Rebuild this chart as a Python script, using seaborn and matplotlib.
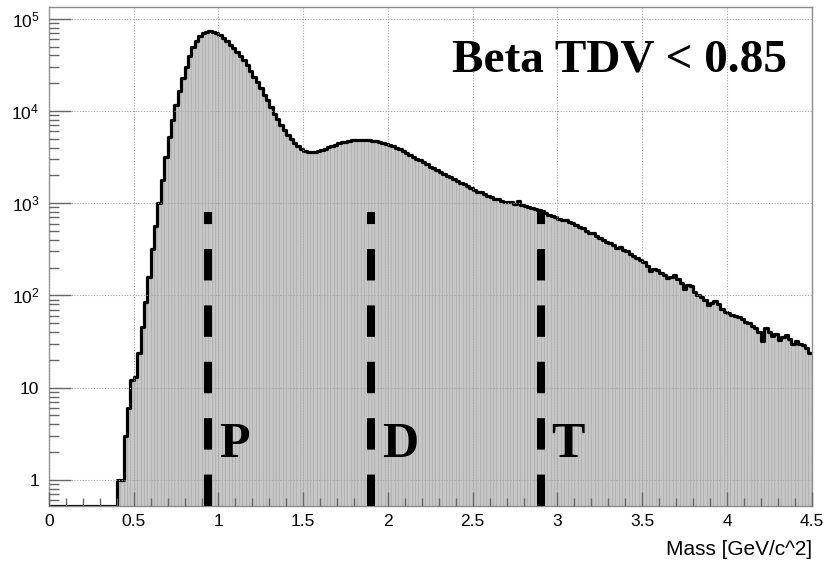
import numpy as np
import pandas as pd
import matplotlib
matplotlib.use("Agg")
import matplotlib.pyplot as plt
import seaborn as sns
from matplotlib.ticker import FixedLocator, FixedFormatter, MultipleLocator, LogLocator, NullFormatter

# ---------------- data ----------------
bin_width = 0.02
mass_range = (0.0, 4.5)

# counts per 0.02 GeV/c^2 bin, starting at 0.00
counts_below_threshold = [0] * 20          # 0.00 - 0.38
counts = counts_below_threshold + [
    1, 1, 3, 6, 12, 13, 24, 45, 85, 160,                                  # 0.40-0.58
    320, 560, 1000, 1800, 3200, 5200, 8000, 11700, 16600, 22900,          # 0.60-0.78
    30200, 39800, 49000, 57500, 64600, 70000, 72400, 73300, 72400, 70000, # 0.80-0.98
    66000, 61700, 57000, 52500, 48000, 43600, 39800, 35500, 31600, 27500, # 1.00-1.18
    23400, 20400, 17800, 15100, 13200, 11000, 9300, 8100, 7100, 6200,     # 1.20-1.38
    5500, 5000, 4500, 4150, 3900, 3700, 3630, 3600, 3630, 3720,           # 1.40-1.58
    3800, 3900, 4070, 4170, 4300, 4470, 4570, 4650, 4750, 4800,           # 1.60-1.78
    4830, 4850, 4860, 4870, 4850, 4780, 4700, 4600, 4480, 4370,           # 1.80-1.98
    4270, 4150, 4000, 3850, 3700, 3500, 3300, 3160, 3050, 2930,           # 2.00-2.18
    2800, 2650, 2500, 2380, 2270, 2160, 2080, 1990, 1910, 1830,           # 2.20-2.38
    1740, 1660, 1600, 1530, 1450, 1390, 1330, 1310, 1260, 1210,           # 2.40-2.58
    1170, 1120, 1100, 1070, 1040, 1030, 1020, 990, 1050, 960,             # 2.60-2.78
    930, 900, 880, 860, 840, 820, 780, 740, 720, 700,                     # 2.80-2.98
    680, 660, 650, 620, 610, 580, 550, 540, 500, 480,                     # 3.00-3.18
    470, 440, 420, 400, 380, 370, 350, 330, 335, 310,                     # 3.20-3.38
    300, 280, 265, 255, 240, 230, 210, 185, 195, 190,                     # 3.40-3.58
    175, 165, 155, 160, 165, 150, 135, 118, 130, 125,                     # 3.60-3.78
    110, 100, 95, 90, 78, 82, 88, 80, 72, 66,                             # 3.80-3.98
    64, 62, 60, 58, 55, 52, 50, 47, 44, 40,                               # 4.00-4.18
    32, 44, 40, 36, 38, 33, 35, 37, 34, 30,                               # 4.20-4.38
    32, 30, 29, 27, 24,                                                   # 4.40-4.48
]

species_labels = ["P", "D", "T"]
species_mass = [0.94, 1.90, 2.90]
cut_line_top = 804
species_label_y = 1.75
species_label_offset = 0.065

annotation = "Beta TDV < 0.85"
x_label = "Mass [GeV/c^2]"

x_tick_values = [0, 0.5, 1, 1.5, 2, 2.5, 3, 3.5, 4, 4.5]
x_tick_labels = ["0", "0.5", "1", "1.5", "2", "2.5", "3", "3.5", "4", "4.5"]
y_tick_values = [1, 10, 100, 1000, 10000, 100000]
y_tick_labels = ["1", "10", "$10^{2}$", "$10^{3}$", "$10^{4}$", "$10^{5}$"]
y_limits = (0.52, 1.35e5)

# ---------------- build table ----------------
edges = [round(mass_range[0] + i * bin_width, 4) for i in range(len(counts) + 1)]
centers = [e + bin_width / 2 for e in edges[:-1]]
df = pd.DataFrame({"mass": centers, "counts": counts})
# outline drawn at the bottom of the frame where a bin is empty (as ROOT does)
df["outline"] = np.maximum(df["counts"], y_limits[0])

# ---------------- style ----------------
sns.set_style("white")
plt.rcParams["font.family"] = ["Liberation Sans", "DejaVu Sans"]
plt.rcParams["mathtext.default"] = "regular"
plt.rcParams["text.color"] = "black"
plt.rcParams["axes.labelcolor"] = "black"
plt.rcParams["xtick.labelcolor"] = "black"
plt.rcParams["ytick.labelcolor"] = "black"

fig = plt.figure(figsize=(8.3, 5.66), dpi=100)
ax = fig.add_axes([0.059, 0.106, 0.919, 0.882])

sns.histplot(data=df, x="mass", weights="counts", bins=edges, element="bars",
             fill=True, color="#c6c6c6", edgecolor="#a8a8a8", linewidth=0.4,
             alpha=1, ax=ax, zorder=1)
sns.histplot(data=df, x="mass", weights="outline", bins=edges, element="step",
             fill=False, color="black", linewidth=2.3, ax=ax, zorder=2)

ax.set_yscale("log")
ax.set_xlim(*mass_range)
ax.set_ylim(*y_limits)

# cut lines
for m in species_mass:
    ax.plot([m, m], [y_limits[0], cut_line_top], color="black", linewidth=5.8,
            dashes=(3.9, 3.1), dash_capstyle="butt", zorder=4)
for m, lab in zip(species_mass, species_labels):
    ax.text(m + species_label_offset, species_label_y, lab, fontsize=36,
            fontweight="bold", family=["Liberation Serif", "DejaVu Serif"],
            color="black", ha="left", va="baseline", zorder=5)

ax.text(0.967, 0.87, annotation, transform=ax.transAxes, fontsize=34,
        fontweight="bold", family=["Liberation Serif", "DejaVu Serif"],
        color="black", ha="right", va="baseline", zorder=5)

# ticks
ax.xaxis.set_major_locator(FixedLocator(x_tick_values))
ax.xaxis.set_major_formatter(FixedFormatter(x_tick_labels))
ax.xaxis.set_minor_locator(MultipleLocator(0.1))
ax.yaxis.set_major_locator(FixedLocator(y_tick_values))
ax.yaxis.set_major_formatter(FixedFormatter(y_tick_labels))
ax.yaxis.set_minor_locator(LogLocator(base=10, subs=np.arange(2, 10)))
ax.yaxis.set_minor_formatter(NullFormatter())

ax.tick_params(axis="x", which="major", direction="in", length=10, width=1,
               color="#666666", labelcolor="black", labelsize=12.5, pad=6,
               bottom=True, top=False)
ax.tick_params(axis="x", which="minor", direction="in", length=5.5, width=1,
               color="#666666", bottom=True, top=False)
ax.tick_params(axis="y", which="major", direction="in", length=15.5, width=1,
               color="#666666", labelcolor="black", labelsize=12.5, pad=7,
               left=True, right=False)
ax.tick_params(axis="y", which="minor", direction="in", length=7, width=1,
               color="#666666", left=True, right=False)

ax.set_axisbelow(False)
ax.grid(True, which="major", linestyle=(0, (1, 1.5)), color="#a6a6a6", linewidth=0.8)

for s in ax.spines.values():
    s.set_color("#8c8c8c")
    s.set_linewidth(1.0)

ax.set_xlabel(x_label, loc="right", fontsize=15, labelpad=8, color="black")
ax.set_ylabel("")

fig.savefig("out.png", dpi=100)
